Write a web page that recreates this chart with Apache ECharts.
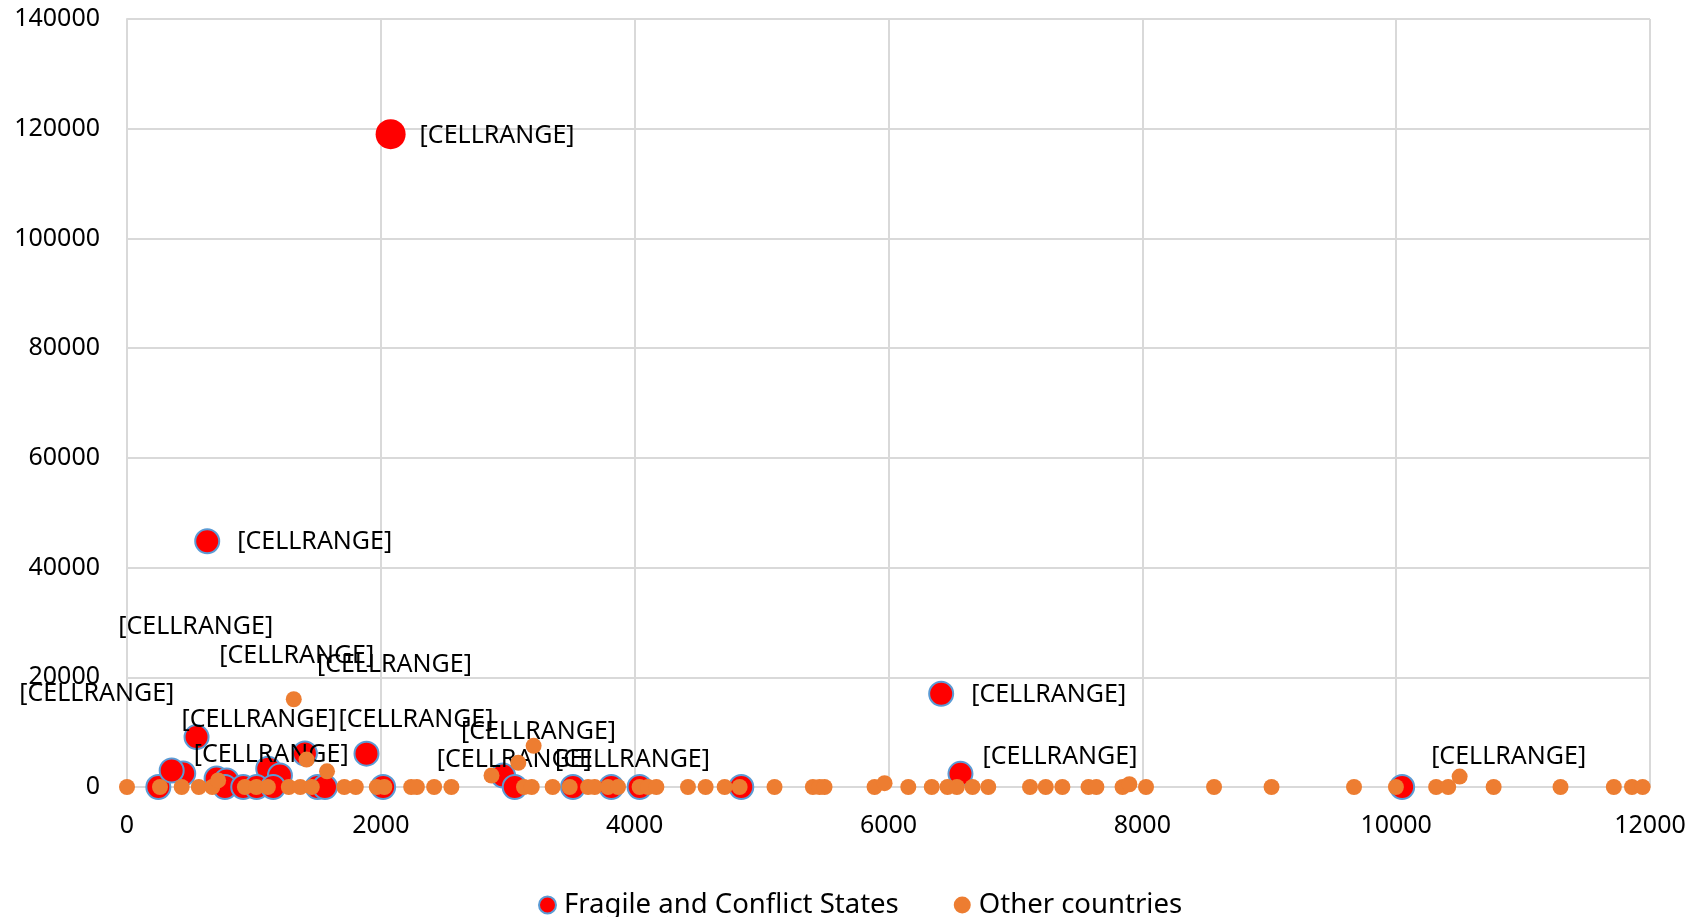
<!DOCTYPE html>
<html>
<head>
<meta charset="utf-8">
<script src="https://cdn.jsdelivr.net/npm/echarts/dist/echarts.min.js"></script>
<style>
html,body{margin:0;padding:0;background:#ffffff;}
#chart{width:1702px;height:917px;}
</style>
</head>
<body>
<div id="chart"></div>
<script>
// ---- data ----
const seriesNames = ['Fragile and Conflict States', 'Other countries'];
const labelText = '[CELLRANGE]';

// Fragile and Conflict States (first 15 carry a data label)
const fragileX = [2077, 632, 6415, 6567, 10047, 443, 1113, 1402, 247, 548, 1887, 352, 2963, 3055, 3514,
                  706, 785, 772, 916, 1021, 1205, 1152, 1501, 1560, 2018, 3816, 4039, 4840];
const fragileY = [119000, 44800, 17000, 2400, 0, 2450, 3340, 6100, 0, 9100, 6080, 3000, 2100, 0, 0,
                  1550, 1200, 0, 0, 0, 2100, 0, 0, 0, 0, 0, 0, 0];

// Other countries
const otherX = [0, 260, 431, 566, 672, 718, 929, 1019, 1110, 1275, 1314, 1365, 1415, 1456, 1576, 1712, 1803,
                1968, 2028, 2239, 2284, 2420, 2556, 2872, 3083, 3128, 3189, 3204, 3354, 3488, 3633, 3685,
                3790, 3869, 4039, 4105, 4171, 4420, 4559, 4709, 4827, 5102, 5404, 5457, 5496, 5890, 5969,
                6156, 6341, 6465, 6539, 6662, 6786, 7115, 7239, 7370, 7576, 7638, 7844, 7898, 8029, 8565,
                9018, 9668, 9998, 10315, 10410, 10500, 10768, 11295, 11715, 11858, 11942];
const otherY = [0, 0, 0, 0, 0, 1200, 0, 0, 0, 0, 16000, 0, 5000, 0, 2850, 0, 0,
                0, 0, 0, 0, 0, 0, 2100, 4400, 0, 0, 7500, 0, 0, 0, 0,
                0, 0, 0, 0, 0, 0, 0, 0, 0, 0, 0, 0, 0, 0, 700,
                0, 0, 0, 0, 0, 0, 0, 0, 0, 0, 0, 0, 500, 0, 0,
                0, 0, 0, 0, 0, 1900, 0, 0, 0, 0, 0];

// axis scales
const xMin = 0, xMax = 12000, xStep = 2000;
const yMin = 0, yMax = 140000, yStep = 20000;

// ---- layout / styling (label nudges in px, relative to the default "right" spot) ----
const labelNudges = [[-3, 2], [0, 1], [0, 1], [-8, -17], [-1, -30], [-95, -147], [-79, -113], [-18, -89],
                     [-169, -93], [-45, -17], [-58, -34], [-8, -16], [-72, -44], [-108, -27], [-48, -27]];

const FONT = 'Noto Sans';
const RED = '#FF0000', BLUE = '#5B9BD5', ORANGE = '#ED7D31', GRID = '#D9D9D9';

const fragileData = fragileX.map((x, i) => {
  const item = { value: [x, fragileY[i]] };
  if (i < labelNudges.length) {
    item.label = { show: true };
  }
  if (i === 0) {
    item.symbolSize = 30;
    item.itemStyle = { borderWidth: 0 };
  }
  return item;
});
const otherData = otherX.map((x, i) => [x, otherY[i]]);

const chart = echarts.init(document.getElementById('chart'), null, { renderer: 'canvas' });
chart.setOption({
  animation: false,
  backgroundColor: '#ffffff',
  grid: { left: 127, right: 52, top: 19, bottom: 130, containLabel: false },
  xAxis: {
    type: 'value', min: xMin, max: xMax, interval: xStep,
    axisLine: { show: true, lineStyle: { color: GRID, width: 2 } },
    axisTick: { show: false },
    splitLine: { show: true, lineStyle: { color: GRID, width: 2 } },
    axisLabel: { fontFamily: FONT, fontSize: 25, color: '#000', margin: 26, showMinLabel: true, showMaxLabel: true,
                 formatter: v => String(v) }
  },
  yAxis: {
    type: 'value', min: yMin, max: yMax, interval: yStep,
    axisLine: { show: true, lineStyle: { color: GRID, width: 2 } },
    axisTick: { show: false },
    splitLine: { show: true, lineStyle: { color: GRID, width: 2 } },
    axisLabel: { fontFamily: FONT, fontSize: 25, color: '#000', margin: 27, formatter: v => String(v) }
  },
  legend: {
    left: 533, top: 886,
    itemWidth: 17, itemHeight: 17, itemGap: 55,
    textStyle: { fontFamily: FONT, fontSize: 27.5, color: '#000', padding: [0, 0, 0, 3] },
    data: [
      { name: seriesNames[0], icon: 'circle' },
      { name: seriesNames[1], icon: 'circle' }
    ]
  },
  series: [
    {
      name: seriesNames[0], type: 'scatter', z: 2,
      symbol: 'circle', symbolSize: 24,
      itemStyle: { color: RED, borderColor: BLUE, borderWidth: 2, opacity: 1 },
      label: {
        show: false, position: 'right', distance: 17, formatter: labelText,
        fontFamily: FONT, fontSize: 25, color: '#000'
      },
      labelLayout: function (p) {
        const n = labelNudges[p.dataIndex];
        return n ? { dx: n[0], dy: n[1], hideOverlap: false } : {};
      },
      emphasis: { disabled: true },
      data: fragileData
    },
    {
      name: seriesNames[1], type: 'scatter', z: 3,
      symbol: 'circle', symbolSize: 16,
      itemStyle: { color: ORANGE, opacity: 1 },
      emphasis: { disabled: true },
      data: otherData
    }
  ]
});
</script>
</body>
</html>
